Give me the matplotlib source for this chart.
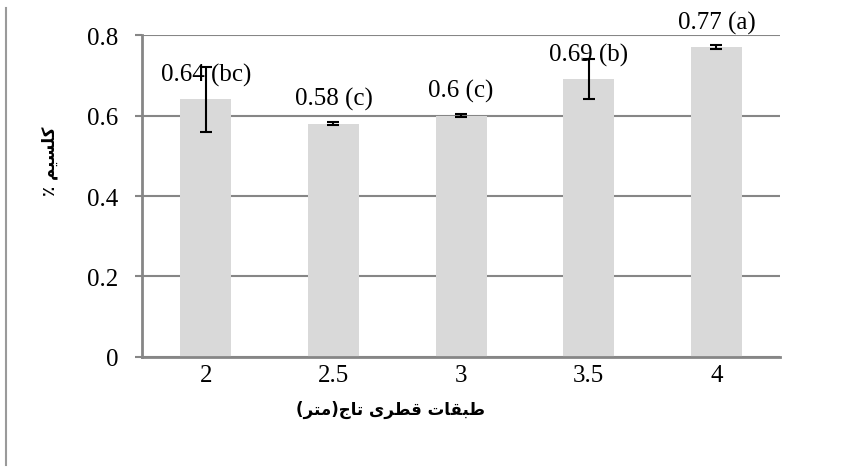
import numpy as np
import matplotlib.pyplot as plt
from matplotlib.lines import Line2D

# crown diameter classes (m), mean Ca %, error and Duncan group letters
classes = ['2', '2.5', '3', '3.5', '4']
calcium = [0.64, 0.58, 0.60, 0.69, 0.77]
errors = [0.08, 0.003, 0.003, 0.05, 0.005]
groups = ['bc', 'c', 'c', 'b', 'a']
value_text = ['0.64', '0.58', '0.6', '0.69', '0.77']

# Persian labels written as visual-order presentation forms (no shaping engine in matplotlib)
ylab = '\u066A ' + '\uFEE2\uFBFF\uFEB4\uFEE0\uFB90'
xlab = ('(' + '\uFEAE\uFE98\uFEE3' + ')' + '\uFE9D\uFE8E\uFE97' + ' '
        + '\uFBFC\uFEAE\uFEC4\uFED7' + ' ' + '\uFE95\uFE8E\uFED8\uFE92\uFEC3')

plt.rcParams['font.family'] = ['Liberation Serif', 'DejaVu Sans']
grid_col = '#868686'

fig = plt.figure(figsize=(8.5, 4.77), dpi=100)
ax = fig.add_axes([0.167, 0.2495, 0.751, 0.675])

x = np.arange(len(classes))
ax.bar(x, calcium, width=0.4, color='#d9d9d9', zorder=2)
ax.errorbar(x, calcium, yerr=errors, fmt='none', ecolor='black',
            elinewidth=1.5, capsize=4, capthick=1.5, zorder=3)

for xi, v, t, g in zip(x, calcium, value_text, groups):
    ax.annotate(f'{t} ({g})', (xi, v), xytext=(0, 18), textcoords='offset points',
                ha='center', va='center', fontsize=18, zorder=4)

ax.set_xlim(-0.5, len(classes) - 0.5)
ax.set_ylim(0, 0.8)
ax.set_yticks([0, 0.2, 0.4, 0.6, 0.8])
ax.set_yticklabels(['0', '0.2', '0.4', '0.6', '0.8'])
ax.set_xticks(x)
ax.set_xticklabels(classes)
ax.yaxis.grid(True, color=grid_col, linewidth=1.5, zorder=0)
ax.set_axisbelow(True)
ax.tick_params(axis='y', length=5, width=1.5, color=grid_col, pad=12, labelsize=18)
ax.tick_params(axis='x', length=0, pad=5, labelsize=18)
for s in ['top', 'right']:
    ax.spines[s].set_visible(False)
for s in ['left', 'bottom']:
    ax.spines[s].set_color(grid_col)
    ax.spines[s].set_linewidth(2)

fig.text(50 / 850, 1 - 161 / 477, ylab, rotation=90, ha='center', va='center',
         fontsize=12, fontweight='bold', family=['DejaVu Sans'])
fig.text(390 / 850, 1 - 410 / 477, xlab, ha='center', va='center',
         fontsize=12, fontweight='bold', family=['DejaVu Sans'])

# thin page border on the left
fig.add_artist(Line2D([6 / 850, 6 / 850], [1 - 9 / 477, 1 - 466 / 477],
                      color='#9a9a9a', linewidth=1.5))

fig.savefig('out.png', dpi=100)
